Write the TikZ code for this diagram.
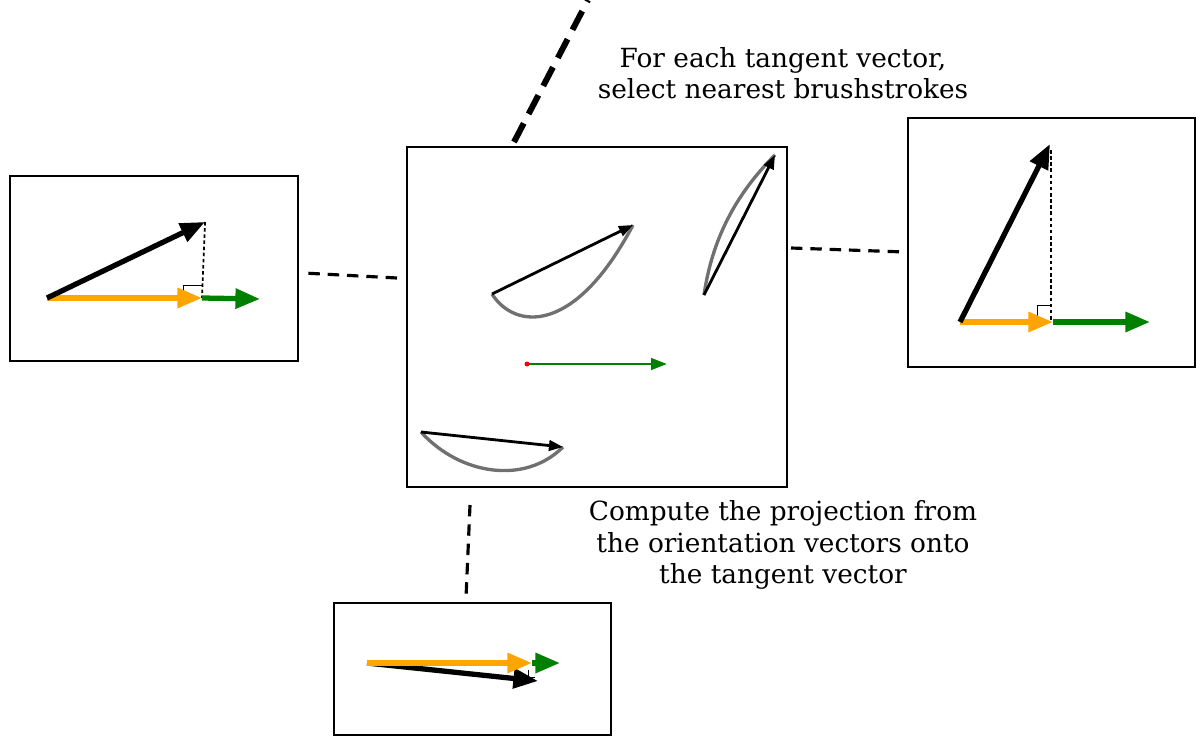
\documentclass[tikz,border=0pt]{standalone}
\usepackage{fontspec}
\setmainfont{DejaVu Serif}
\usetikzlibrary{arrows.meta}
\definecolor{tanorange}{RGB}{255,165,0}
\definecolor{tangreen}{RGB}{0,128,0}
\definecolor{strokegray}{RGB}{112,112,112}

\begin{document}
\begin{tikzpicture}[x=0.02cm,y=-0.02cm,
    box/.style={draw, line width=1.4pt},
    link/.style={line width=1.8pt, dash pattern=on 6.5pt off 4.5pt},
    biglink/.style={line width=3.4pt, dash pattern=on 12pt off 6pt},
    bigvec/.style={line width=3pt, -{Triangle[length=14pt,width=11pt]}},
    smallvec/.style={line width=1.6pt, -{Triangle[length=8pt,width=6pt]}},
    brush/.style={strokegray, line width=1.9pt},
    label/.style={align=center, font=\fontsize{15}{17.8}\selectfont}]
    \useasboundingbox (0,0) rectangle (1196,740);

    % рамки
    \coordinate (LA) at (10,176);   \coordinate (LB) at (298,361);
    \coordinate (CA) at (407,147);  \coordinate (CB) at (787,487);
    \coordinate (RA) at (908,118);  \coordinate (RB) at (1195,367);
    \coordinate (BA) at (334,603);  \coordinate (BB) at (611,735);

    \draw[box] (LA) rectangle (LB);
    \draw[box] (CA) rectangle (CB);
    \draw[box] (RA) rectangle (RB);
    \draw[box] (BA) rectangle (BB);

    % з'єднання
    \coordinate (cl) at (397,278);  \coordinate (lr) at (303,273);
    \coordinate (cr) at (791,248);  \coordinate (rl) at (905,252);
    \coordinate (cb) at (470,505);  \coordinate (bt) at (466,598);
    \coordinate (ct) at (514,142);  \coordinate (up) at (588,0);

    \draw[link] (cl) -- (lr);
    \draw[link] (cr) -- (rl);
    \draw[link] (cb) -- (bt);
    \draw[biglink] (ct) -- (up);

    % центральна рамка: мазки
    \coordinate (S1) at (492,294);  \coordinate (E1) at (633,225);
    \coordinate (S2) at (704,295);  \coordinate (E2) at (775,155);
    \coordinate (S3) at (421,432);  \coordinate (E3) at (563,447);
    \coordinate (P) at (527,364);   \coordinate (Q) at (667,364);

    \draw[brush] (S1) .. controls (515,330) and (575,335) .. (E1);
    \draw[brush] (S2) .. controls (712,240) and (735,195) .. (E2);
    \draw[brush] (S3) .. controls (460,475) and (525,485) .. (E3);
    \draw[smallvec] (S1) -- (E1);
    \draw[smallvec] (S2) -- (E2);
    \draw[smallvec] (S3) -- (E3);
    \draw[tangreen, line width=1.5pt, -{Triangle[length=9pt,width=6.5pt]}] (P) -- (Q);
    \fill[red] (P) circle (2.5);

    % ліва рамка
    \coordinate (O1) at (47,298);
    \coordinate (V1) at (205,222);
    \coordinate (H1) at (202,298);
    \coordinate (T1) at (260,299);
    \draw[dash pattern=on 2pt off 1.5pt, line width=1pt] (V1) -- (H1);
    \draw[thin] (183,298) -- (183,285) -- (202,285);
    \draw[tangreen, bigvec] (H1) -- (T1);
    \draw[tanorange, bigvec] (O1) -- (H1);
    \draw[bigvec] (O1) -- (V1);

    % права рамка
    \coordinate (O2) at (960,322);
    \coordinate (V2) at (1050,144);
    \coordinate (H2) at (1053,322);
    \coordinate (T2) at (1150,322);
    \draw[dash pattern=on 2pt off 1.5pt, line width=1pt] (1051,150) -- (1051,322);
    \draw[thin] (1037,322) -- (1037,305) -- (1051,305);
    \draw[tangreen, bigvec] (H2) -- (T2);
    \draw[tanorange, bigvec] (O2) -- (H2);
    \draw[bigvec] (O2) -- (V2);

    % нижня рамка
    \coordinate (O3) at (367,663);
    \coordinate (V3) at (538,681);
    \coordinate (H3) at (532,663);
    \coordinate (T3) at (560,663);
    \draw[bigvec] (O3) -- (V3);
    \draw[tangreen, bigvec] (H3) -- (T3);
    \draw[tanorange, bigvec] (O3) -- (H3);
    \draw[thin] (528,670) -- (528,677) -- (535,677);

    % підписи
    \node[label] (select) at (783,73) {For each tangent vector,\\select nearest brushstrokes};
    \node[label] (project) at (783,545) {Compute the projection from\\the orientation vectors onto\\the tangent vector};
\end{tikzpicture}
\end{document}
